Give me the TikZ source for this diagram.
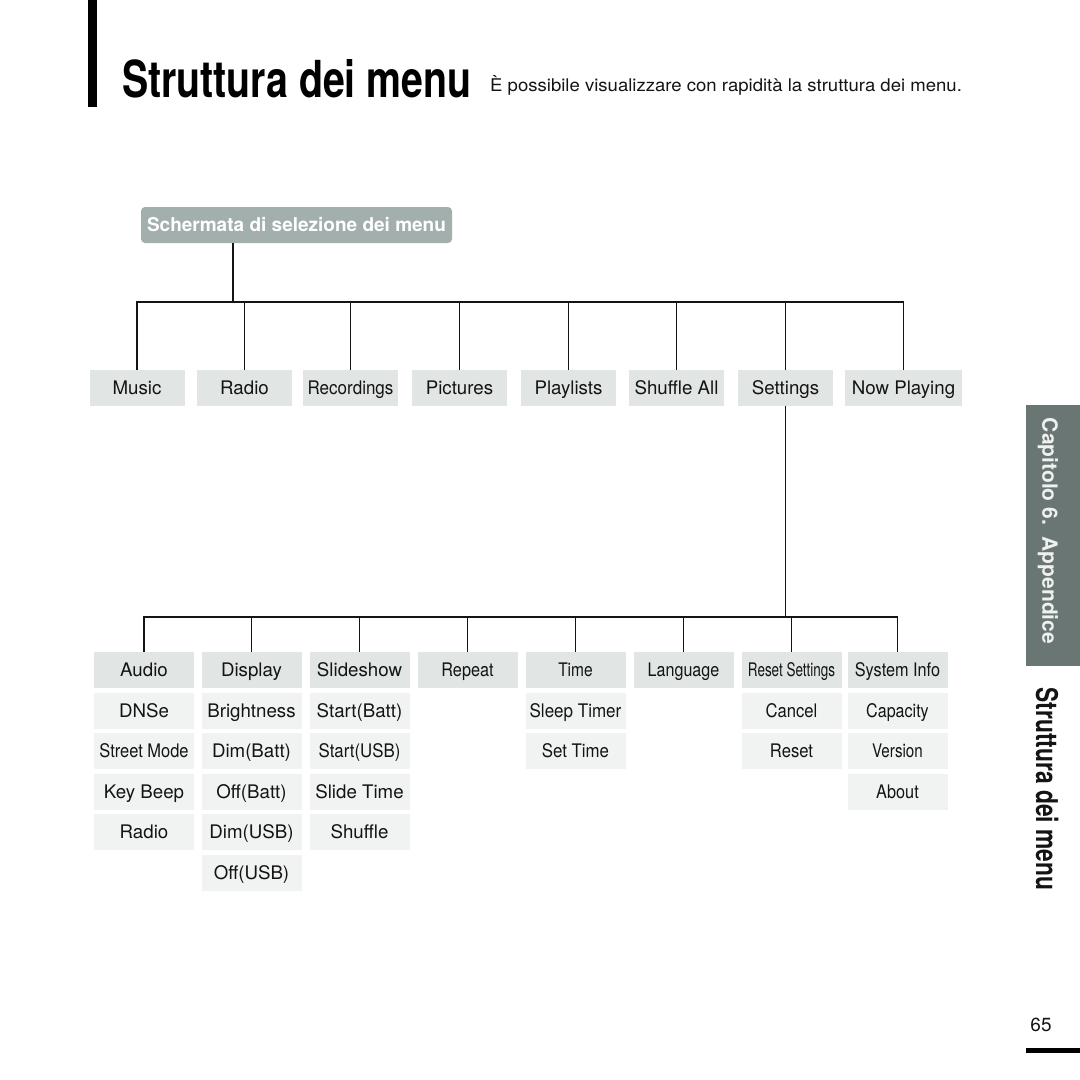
\documentclass[tikz,border=0pt]{standalone}
\usepackage{fontspec}
\setmainfont{TeX Gyre Heros}
\definecolor{hdr}{HTML}{E1E5E4}
\definecolor{sub}{HTML}{F1F3F2}
\definecolor{rootc}{HTML}{A3AFAC}
\definecolor{side}{HTML}{6A7673}
\definecolor{sidetext}{HTML}{EEF1F0}
\definecolor{ink}{HTML}{141414}
\newcommand\cond[2]{\scalebox{#1}[1]{#2}}
\begin{document}
\begin{tikzpicture}[x=1pt,y=-1pt,
  lbl/.style={font=\fontsize{18.7}{20}\selectfont, text=ink, text height=13.4pt, text depth=0pt},
  mainbox/.style={lbl, fill=hdr, minimum width=95, minimum height=36, inner sep=0},
  hdrbox/.style={lbl, fill=hdr, minimum width=100, minimum height=36, inner sep=0},
  subbox/.style={lbl, fill=sub, minimum width=100, minimum height=36, inner sep=0},
  conn/.style={line width=1.9pt, draw=ink}]
\useasboundingbox (0,0) rectangle (1080,1080);
\fill[white] (0,0) rectangle (1080,1080);
% header
\fill[black] (88,0) rectangle (97,107);
\node[anchor=base west, inner sep=0, font=\bfseries\fontsize{51}{55}\selectfont] (title) at (122,97) {\cond{0.77}{Struttura dei menu}};
\node[anchor=base west, inner sep=0, font=\fontsize{17.5}{19}\selectfont, text=ink] (subt) at (490,91) {\cond{1.06}{È possibile visualizzare con rapidità la struttura dei menu.}};
% root
\node[fill=rootc, rounded corners=4, minimum width=311, minimum height=36, inner sep=0, text=white, text height=13.7pt, text depth=0pt, font=\bfseries\fontsize{19}{21}\selectfont] (root) at (296.5,225) {Schermata di selezione dei menu};
% main row
\node[mainbox] (music) at (137,388) {Music};
\node[mainbox] (radio) at (244.5,388) {Radio};
\node[mainbox] (rec) at (350.5,388) {\cond{0.91}{Recordings}};
\node[mainbox] (pict) at (459.5,388) {Pictures};
\node[mainbox] (play) at (568.5,388) {Playlists};
\node[mainbox] (shuf) at (676.5,388) {Shuffle All};
\node[mainbox] (sett) at (785.5,388) {Settings};
\node[mainbox, minimum width=117] (now) at (903.5,388) {Now Playing};
\coordinate (j1) at (233,302);
\draw[conn] (j1 |- root.south) -- (j1);
\foreach \n in {music,radio,rec,pict,play,shuf,sett,now}
  \draw[conn] (j1) -| (\n.north);
% settings level
\coordinate (j2) at (785.5,617);
\draw[conn] (sett.south) -- (j2);
\node[hdrbox] (audio) at (144,670) {Audio};
\node[hdrbox] (disp) at (251.5,670) {Display};
\node[hdrbox] (slide) at (359.5,670) {Slideshow};
\node[hdrbox] (rep) at (467.5,670) {\cond{0.87}{Repeat}};
\node[hdrbox] (time) at (575.5,670) {\cond{0.83}{Time}};
\node[hdrbox] (lang) at (683.5,670) {\cond{0.86}{Language}};
\node[hdrbox] (reset) at (791.5,670) {\cond{0.72}{Reset Settings}};
\node[hdrbox] (sys) at (897.5,670) {\cond{0.87}{System Info}};
\foreach \n in {audio,disp,slide,rep,time,lang,reset,sys}
  \draw[conn] (j2) -| (\n.north);
% sub items
\node[subbox] (dnse) at (144,710.5) {DNSe};
\node[subbox] (street) at (144,751) {\cond{0.88}{Street Mode}};
\node[subbox] (keyb) at (144,791.5) {Key Beep};
\node[subbox] (aradio) at (144,832) {Radio};
\node[subbox] (bright) at (251.5,710.5) {Brightness};
\node[subbox] (dimb) at (251.5,751) {Dim(Batt)};
\node[subbox] (offb) at (251.5,791.5) {Off(Batt)};
\node[subbox] (dimu) at (251.5,832) {Dim(USB)};
\node[subbox] (offu) at (251.5,872.5) {Off(USB)};
\node[subbox] (startb) at (359.5,710.5) {Start(Batt)};
\node[subbox] (startu) at (359.5,751) {\cond{0.9}{Start(USB)}};
\node[subbox] (slidet) at (359.5,791.5) {Slide Time};
\node[subbox] (shuffle) at (359.5,832) {Shuffle};
\node[subbox] (sleep) at (575.5,710.5) {\cond{0.91}{Sleep Timer}};
\node[subbox] (sett2) at (575.5,751) {\cond{0.9}{Set Time}};
\node[subbox] (cancel) at (791.5,710.5) {\cond{0.89}{Cancel}};
\node[subbox] (rst) at (791.5,751) {\cond{0.89}{Reset}};
\node[subbox] (cap) at (897.5,710.5) {\cond{0.86}{Capacity}};
\node[subbox] (ver) at (897.5,751) {\cond{0.81}{Version}};
\node[subbox] (about) at (897.5,791.5) {\cond{0.87}{About}};
% sidebar
\fill[side] (1026,405) rectangle (1080,666);
\node[rotate=-90, inner sep=0, text=sidetext, font=\bfseries\fontsize{21}{23}\selectfont] (chap) at (1048,531) {Capitolo 6.\ \ Appendice};
\node[rotate=-90, inner sep=0, text=ink, font=\bfseries\fontsize{30}{32}\selectfont] (side) at (1047,789) {\cond{0.76}{Struttura dei menu}};
\node[inner sep=0, text=ink, font=\fontsize{19}{21}\selectfont] (pg) at (1041,1025) {65};
\fill[black] (1026,1048) rectangle (1080,1053);
\end{tikzpicture}
\end{document}
